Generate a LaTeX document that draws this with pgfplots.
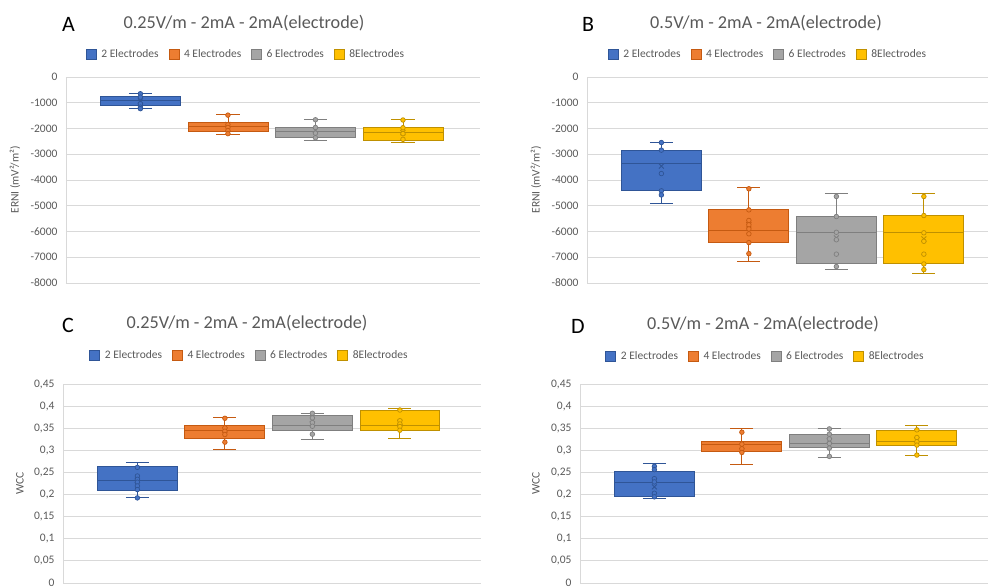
\documentclass[border=0pt]{standalone}
\usepackage{fontspec}
\setmainfont{Carlito}
\usepackage{pgfplots}
\pgfplotsset{compat=1.18}
\definecolor{f1}{HTML}{4472C4}\definecolor{d1}{HTML}{2F5597}
\definecolor{f2}{HTML}{ED7D31}\definecolor{d2}{HTML}{C55A11}
\definecolor{f3}{HTML}{A5A5A5}\definecolor{d3}{HTML}{7F7F7F}
\definecolor{f4}{HTML}{FFC000}\definecolor{d4}{HTML}{BF9000}
\definecolor{gridc}{HTML}{D9D9D9}
\definecolor{labc}{HTML}{595959}
\pgfplotsset{
  legend image code/.code={\draw[#1] (0pt,-5pt) rectangle (10pt,5pt);},
  panel/.style={
    scale only axis, enlargelimits=false, xmin=0.15,
    axis lines*=left, axis line style={draw=gridc, line width=0.8pt},
    xtick=\empty, ymajorgrids, grid style={draw=gridc, line width=0.8pt},
    major tick length=0pt,
    yticklabel style={font=\fontsize{11.5}{12}\selectfont, text=labc, xshift=-5pt},
    every axis y label/.style={rotate=90, anchor=center, font=\fontsize{11.5}{12}\selectfont, text=labc},
    legend style={draw=none, fill=none, font=\fontsize{11.5}{12}\selectfont, text=labc,
      anchor=center, /tikz/every even column/.append style={column sep=8pt},
      /tikz/every odd column/.append style={column sep=3pt}},
    legend columns=4,
  },
}
% #1 series, #2 position, #3 lower whisker, #4 Q1, #5 median, #6 Q3, #7 upper whisker, #8 mean
\newcommand{\ebox}[8]{%
  \pgfmathsetmacro\bL{#2-0.457}\pgfmathsetmacro\bR{#2+0.457}%
  \pgfmathsetmacro\cL{#2-0.1325}\pgfmathsetmacro\cR{#2+0.1325}%
  \addplot[draw=d#1, line width=0.8pt, forget plot] coordinates {(#2,#6) (#2,#7)};
  \addplot[draw=d#1, line width=0.8pt, forget plot] coordinates {(#2,#4) (#2,#3)};
  \addplot[draw=d#1, line width=0.8pt, forget plot] coordinates {(\cL,#7) (\cR,#7)};
  \addplot[draw=d#1, line width=0.8pt, forget plot] coordinates {(\cL,#3) (\cR,#3)};
  \addplot[fill=f#1, draw=d#1, line width=0.8pt, forget plot] coordinates {(\bL,#4) (\bR,#4) (\bR,#6) (\bL,#6)} -- cycle;
  \addplot[draw=d#1, line width=0.8pt, forget plot] coordinates {(\bL,#5) (\bR,#5)};
  \addplot[only marks, mark=x, mark size=3.5pt, draw=d#1, line width=0.9pt, forget plot] coordinates {(#2,#8)};
}
\newcommand{\epts}[2]{%
  \addplot[only marks, mark=*, mark size=2.3pt, mark options={draw=d#1, fill=f#1, line width=0.7pt}, forget plot] coordinates {#2};
}
\newcommand{\legs}{%
  \addlegendimage{fill=f1,draw=d1}\addlegendentry{2 Electrodes}
  \addlegendimage{fill=f2,draw=d2}\addlegendentry{4 Electrodes}
  \addlegendimage{fill=f3,draw=d3}\addlegendentry{6 Electrodes}
  \addlegendimage{fill=f4,draw=d4}\addlegendentry{8Electrodes}
}
\begin{document}
\begin{tikzpicture}
% ---------------- Panel A ----------------
\begin{axis}[panel, at={(66pt,-283pt)}, anchor=south west, width=414pt, height=206pt,
  xmax=4.88, ymin=-8000, ymax=0,
  ytick={-8000,-7000,-6000,-5000,-4000,-3000,-2000,-1000,0},
  yticklabels={-8000,-7000,-6000,-5000,-4000,-3000,-2000,-1000,0},
  ylabel={ERNI (mV²/m²)}, ylabel style={at={(axis description cs:-0.123,0.5)}},
  legend style={at={(rel axis cs:0.4348,1.1117)}}]
\legs
\ebox{1}{1}{-1230}{-1100}{-920}{-760}{-640}{-930}
\epts{1}{(1,-650)(1,-780)(1,-1040)(1,-1170)(1,-1230)}
\ebox{2}{2}{-2220}{-2110}{-1920}{-1770}{-1470}{-1840}
\epts{2}{(2,-1480)(2,-1850)(2,-1960)(2,-2080)(2,-2200)}
\ebox{3}{3}{-2460}{-2340}{-2110}{-1940}{-1650}{-2070}
\epts{3}{(3,-1660)(3,-1960)(3,-2180)(3,-2360)}
\ebox{4}{4}{-2540}{-2450}{-2140}{-1970}{-1650}{-2160}
\epts{4}{(4,-1670)(4,-1970)(4,-2200)(4,-2420)}
\end{axis}
% ---------------- Panel B ----------------
\begin{axis}[panel, at={(587pt,-283pt)}, anchor=south west, width=401pt, height=206pt,
  xmax=4.733, ymin=-8000, ymax=0,
  ytick={-8000,-7000,-6000,-5000,-4000,-3000,-2000,-1000,0},
  yticklabels={-8000,-7000,-6000,-5000,-4000,-3000,-2000,-1000,0},
  ylabel={ERNI (mV²/m²)}, ylabel style={at={(axis description cs:-0.127,0.5)}},
  legend style={at={(rel axis cs:0.4514,1.1117)}}]
\legs
\ebox{1}{1}{-4920}{-4420}{-3360}{-2840}{-2545}{-3460}
\epts{1}{(1,-2545)(1,-2840)(1,-3750)(1,-4420)(1,-4580)}
\ebox{2}{2}{-7170}{-6440}{-5960}{-5160}{-4290}{-5740}
\epts{2}{(2,-4340)(2,-5160)(2,-5570)(2,-5740)(2,-5900)(2,-6090)(2,-6430)(2,-6860)}
\ebox{3}{3}{-7490}{-7230}{-6030}{-5430}{-4520}{-6250}
\epts{3}{(3,-4640)(3,-5420)(3,-6030)(3,-6320)(3,-6880)(3,-7360)}
\ebox{4}{4}{-7610}{-7230}{-6050}{-5360}{-4520}{-6290}
\epts{4}{(4,-4640)(4,-5380)(4,-6050)(4,-6380)(4,-6880)(4,-7260)(4,-7480)}
\end{axis}
% ---------------- Panel C ----------------
\begin{axis}[panel, at={(63pt,-583pt)}, anchor=south west, width=418pt, height=199pt,
  xmax=4.927, ymin=0, ymax=0.45,
  ytick={0,0.05,0.1,0.15,0.2,0.25,0.3,0.35,0.4,0.45},
  yticklabels={0,{0,05},{0,1},{0,15},{0,2},{0,25},{0,3},{0,35},{0,4},{0,45}},
  ylabel={WCC}, ylabel style={at={(axis description cs:-0.103,0.5)}},
  legend style={at={(rel axis cs:0.4462,1.1457)}}]
\legs
\ebox{1}{1}{0.1925}{0.2098}{0.2315}{0.263}{0.272}{0.232}
\epts{1}{(1,0.2615)(1,0.242)(1,0.2345)(1,0.228)(1,0.2195)(1,0.2113)(1,0.1925)}
\ebox{2}{2}{0.3013}{0.326}{0.344}{0.3575}{0.3748}{0.346}
\epts{2}{(2,0.3725)(2,0.3508)(2,0.3433)(2,0.3358)(2,0.3185)}
\ebox{3}{3}{0.3245}{0.3455}{0.3575}{0.3785}{0.3845}{0.36}
\epts{3}{(3,0.3838)(3,0.3733)(3,0.3628)(3,0.3545)(3,0.3365)}
\ebox{4}{4}{0.326}{0.3455}{0.3575}{0.3898}{0.3958}{0.3635}
\epts{4}{(4,0.3912)(4,0.367)(4,0.3597)(4,0.3537)(4,0.3455)}
\end{axis}
% ---------------- Panel D ----------------
\begin{axis}[panel, at={(580pt,-583pt)}, anchor=south west, width=408pt, height=199pt,
  xmax=4.813, ymin=0, ymax=0.45,
  ytick={0,0.05,0.1,0.15,0.2,0.25,0.3,0.35,0.4,0.45},
  yticklabels={0,{0,05},{0,1},{0,15},{0,2},{0,25},{0,3},{0,35},{0,4},{0,45}},
  ylabel={WCC}, ylabel style={at={(axis description cs:-0.108,0.5)}},
  legend style={at={(rel axis cs:0.4547,1.1407)}}]
\legs
\ebox{1}{1}{0.1918}{0.1963}{0.2286}{0.2525}{0.2713}{0.2173}
\epts{1}{(1,0.2638)(1,0.2563)(1,0.236)(1,0.2286)(1,0.203)(1,0.1948)}
\ebox{2}{2}{0.2675}{0.2975}{0.3133}{0.3193}{0.3485}{0.3088}
\epts{2}{(2,0.341)(2,0.314)(2,0.3035)(2,0.2953)}
\ebox{3}{3}{0.2848}{0.3065}{0.3163}{0.3358}{0.35}{0.3223}
\epts{3}{(3,0.3485)(3,0.3365)(3,0.326)(3,0.3155)(3,0.305)(3,0.2863)}
\ebox{4}{4}{0.2878}{0.3118}{0.32}{0.3448}{0.3568}{0.3238}
\epts{4}{(4,0.3463)(4,0.329)(4,0.3193)(4,0.3118)(4,0.2893)}
\end{axis}
% ---------------- Titles ----------------
\node[font=\fontsize{22}{24}\selectfont] at (68.5pt,-24pt) {A};
\node[font=\fontsize{18.2}{20}\selectfont, text=labc] at (244pt,-23pt) {0.25V/m - 2mA - 2mA(electrode)};
\node[font=\fontsize{22}{24}\selectfont] at (588pt,-24pt) {B};
\node[font=\fontsize{18.2}{20}\selectfont, text=labc] at (766pt,-23pt) {0.5V/m - 2mA - 2mA(electrode)};
\node[font=\fontsize{22}{24}\selectfont] at (68pt,-325pt) {C};
\node[font=\fontsize{18.2}{20}\selectfont, text=labc] at (247pt,-323pt) {0.25V/m - 2mA - 2mA(electrode)};
\node[font=\fontsize{22}{24}\selectfont] at (578pt,-326pt) {D};
\node[font=\fontsize{18.2}{20}\selectfont, text=labc] at (763pt,-324pt) {0.5V/m - 2mA - 2mA(electrode)};
\pgfresetboundingbox
\useasboundingbox (0pt,0pt) rectangle (988pt,-588pt);
\end{tikzpicture}
\end{document}
